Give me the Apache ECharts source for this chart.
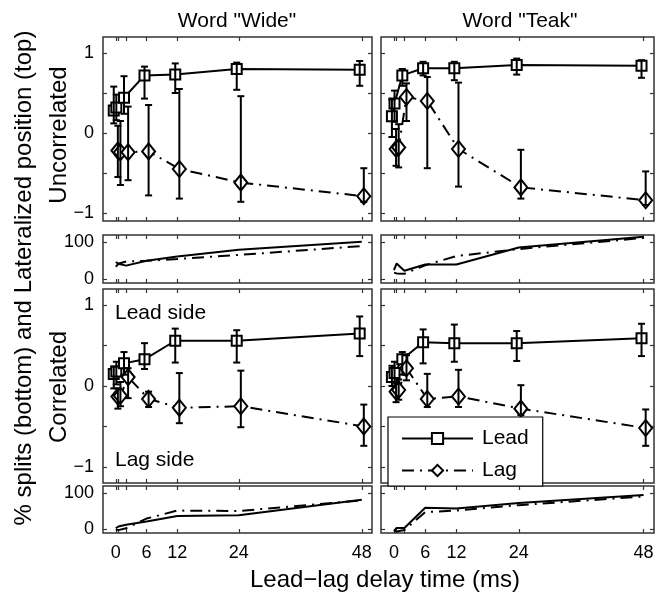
<!DOCTYPE html>
<html>
<head>
<meta charset="utf-8">
<script src="https://cdn.jsdelivr.net/npm/echarts@6/dist/echarts.min.js"></script>
<style>html,body{margin:0;padding:0;background:#fff}#chart{width:656px;height:597px}</style>
</head>
<body>
<div id="chart"></div>
<script>
// lead-lag delays (ms) and tick positions
var delays = [0, 0.5, 2, 6, 12, 24, 48]
var delayLabels = [0, 6, 12, 24, 48]
var posTicks = [-1, -0.5, 0, 0.5, 1]
var posLabels = [-1, 0, 1]
var splitTicks = [0, 100]

// lateralized position, uncorrelated, word "Wide"
var uncWideLead = [0.28, 0.32, 0.44, 0.72, 0.73, 0.80, 0.79]
var uncWideLeadLo = [0.12, 0.16, 0.24, 0.43, 0.50, 0.54, 0.59]
var uncWideLeadHi = [0.58, 0.48, 0.71, 0.83, 0.87, 0.88, 0.90]
var uncWideLag = [-0.22, -0.24, -0.24, -0.23, -0.45, -0.62, -0.79]
var uncWideLagLo = [-0.55, -0.65, -0.59, -0.78, -0.82, -0.86, -0.86]
var uncWideLagHi = [0.09, 0.15, 0.33, 0.35, 0.55, 0.46, -0.44]
// uncorrelated, word "Teak"
var uncTeakLead = [0.21, 0.37, 0.72, 0.81, 0.81, 0.85, 0.84]
var uncTeakLeadLo = [-0.05, 0.14, 0.59, 0.72, 0.66, 0.73, 0.69]
var uncTeakLeadHi = [0.42, 0.53, 0.80, 0.89, 0.89, 0.93, 0.91]
var uncTeakLag = [-0.20, -0.18, 0.45, 0.40, -0.20, -0.68, -0.84]
var uncTeakLagLo = [-0.41, -0.43, 0.15, -0.44, -0.67, -0.82, -0.90]
var uncTeakLagHi = [0.05, 0.11, 0.62, 0.70, 0.63, -0.21, -0.48]
// correlated, word "Wide"
var corWideLead = [0.15, 0.18, 0.28, 0.33, 0.56, 0.56, 0.65]
var corWideLeadLo = [-0.03, 0.02, 0.14, 0.21, 0.29, 0.29, 0.37]
var corWideLeadHi = [0.24, 0.30, 0.42, 0.53, 0.71, 0.69, 0.86]
var corWideLag = [-0.13, -0.12, 0.11, -0.16, -0.27, -0.25, -0.50]
var corWideLagLo = [-0.28, -0.25, -0.15, -0.26, -0.46, -0.51, -0.74]
var corWideLagHi = [-0.03, 0.05, 0.22, -0.07, 0.16, 0.19, -0.23]
// correlated, word "Teak"
var corTeakLead = [0.11, 0.16, 0.33, 0.54, 0.53, 0.53, 0.59]
var corTeakLeadLo = [0.00, 0.03, 0.14, 0.28, 0.30, 0.31, 0.37]
var corTeakLeadHi = [0.25, 0.30, 0.42, 0.70, 0.76, 0.68, 0.77]
var corTeakLag = [-0.07, -0.05, 0.22, -0.16, -0.13, -0.28, -0.52]
var corTeakLagLo = [-0.20, -0.17, 0.07, -0.26, -0.26, -0.36, -0.74]
var corTeakLagHi = [0.05, 0.08, 0.38, 0.15, 0.20, 0.01, -0.29]

// % splits
var splitUncWideLead = [47, 42, 37, 50, 62, 80, 102]
var splitUncWideLag = [34, 42, 48, 50, 55, 66, 90]
var splitUncTeakLead = [25, 43, 23, 40, 40, 86, 115]
var splitUncTeakLag = [18, 16, 15, 38, 63, 82, 112]
var splitCorWideLead = [3, 8, 13, 22, 37, 39, 82]
var splitCorWideLag = [0, -2, 3, 30, 52, 51, 80]
var splitCorTeakLead = [-5, 4, 4, 60, 58, 73, 95]
var splitCorTeakLag = [-4, -6, -2, 48, 52, 67, 91]

var FONT = '"Liberation Sans", Arial, sans-serif'
var dashDot = [12, 6, 2, 6]

var cols = [{left: 103, width: 269}, {left: 381, width: 273}]
var rows = [
    {top: 37, height: 184, min: -1.1, max: 1.2, big: true},
    {top: 235, height: 48, min: -10, max: 120, big: false},
    {top: 289, height: 194, min: -1.2, max: 1.2, big: true},
    {top: 486, height: 47, min: -10, max: 120, big: false}
]

// ticks follow the label positions; labels that should not show are blanked
function tickLabels(ticks, shown, visible) {
    return {
        show: true, customValues: ticks,
        fontSize: 18, fontFamily: FONT, color: '#000',
        formatter: function (v) {
            if (!visible || shown.indexOf(v) < 0) return ''
            return String(v).replace('-', '\u2212')
        }
    }
}

var grids = [], xAxes = [], yAxes = []
rows.forEach(function (r, ri) {
    cols.forEach(function (c, ci) {
        var g = grids.length
        grids.push({
            left: c.left, width: c.width, top: r.top, height: r.height,
            outerBoundsMode: 'none', containLabel: false,
            show: true, borderColor: '#333', borderWidth: 1.5, backgroundColor: '#fff'
        })
        var last = ri === rows.length - 1
        ;['bottom', 'top'].forEach(function (pos) {
            var lab = tickLabels(delays, delayLabels, last && pos === 'bottom')
            lab.margin = 11
            xAxes.push({
                type: 'value', gridIndex: g, position: pos, min: -2.5, max: 50,
                axisLine: {show: false, onZero: false},
                axisTick: {inside: true, length: 4, customValues: delays, lineStyle: {color: '#333', width: 1.2}},
                axisLabel: lab,
                splitLine: {show: false}
            })
        })
        ;['left', 'right'].forEach(function (pos) {
            var ticks = r.big ? posTicks : splitTicks
            var lab = tickLabels(ticks, r.big ? posLabels : splitTicks, pos === 'left' && ci === 0)
            lab.margin = 9
            yAxes.push({
                type: 'value', gridIndex: g, position: pos, min: r.min, max: r.max,
                axisLine: {show: false, onZero: false},
                axisTick: {inside: true, length: 4, customValues: ticks, lineStyle: {color: '#333', width: 1.2}},
                axisLabel: lab,
                splitLine: {show: false}
            })
        })
    })
})

function errRender(params, api) {
    var x = api.value(0)
    var top = api.coord([x, api.value(2)])
    var bot = api.coord([x, api.value(1)])
    var cap = 3.5
    var st = {stroke: '#000', lineWidth: 2}
    return {type: 'group', children: [
        {type: 'line', shape: {x1: top[0], y1: top[1], x2: bot[0], y2: bot[1]}, style: st},
        {type: 'line', shape: {x1: top[0] - cap, y1: top[1], x2: top[0] + cap, y2: top[1]}, style: st},
        {type: 'line', shape: {x1: bot[0] - cap, y1: bot[1], x2: bot[0] + cap, y2: bot[1]}, style: st}
    ]}
}

function pts(vals, off) {
    return delays.map(function (d, k) { return [d + off, vals[k]] })
}
function errPts(lo, hi, off) {
    return delays.map(function (d, k) { return [d + off, lo[k], hi[k]] })
}

var series = []
function bigPanel(g, lead, leadLo, leadHi, lag, lagLo, lagHi) {
    series.push({
        name: 'Lead', type: 'line', xAxisIndex: 2 * g, yAxisIndex: 2 * g, z: 2,
        data: pts(lead, -0.4), symbol: 'emptyRect', symbolSize: 10,
        lineStyle: {color: '#000', width: 2},
        itemStyle: {color: '#000', borderWidth: 1.8}
    })
    series.push({
        name: 'Lag', type: 'line', xAxisIndex: 2 * g, yAxisIndex: 2 * g, z: 2,
        data: pts(lag, 0.4), symbol: 'emptyDiamond', symbolSize: [13, 16],
        lineStyle: {color: '#000', width: 2, type: dashDot},
        itemStyle: {color: '#000', borderWidth: 1.8}
    })
    series.push({
        type: 'custom', xAxisIndex: 2 * g, yAxisIndex: 2 * g, z: 3,
        renderItem: errRender, data: errPts(leadLo, leadHi, -0.4), encode: {x: 0, y: [1, 2]}
    })
    series.push({
        type: 'custom', xAxisIndex: 2 * g, yAxisIndex: 2 * g, z: 3,
        renderItem: errRender, data: errPts(lagLo, lagHi, 0.4), encode: {x: 0, y: [1, 2]}
    })
}
function splitPanel(g, lead, lag) {
    series.push({
        type: 'line', xAxisIndex: 2 * g, yAxisIndex: 2 * g, data: pts(lead, 0),
        symbol: 'none', lineStyle: {color: '#000', width: 2}
    })
    series.push({
        type: 'line', xAxisIndex: 2 * g, yAxisIndex: 2 * g, data: pts(lag, 0),
        symbol: 'none', lineStyle: {color: '#000', width: 2, type: dashDot}
    })
}

bigPanel(0, uncWideLead, uncWideLeadLo, uncWideLeadHi, uncWideLag, uncWideLagLo, uncWideLagHi)
bigPanel(1, uncTeakLead, uncTeakLeadLo, uncTeakLeadHi, uncTeakLag, uncTeakLagLo, uncTeakLagHi)
splitPanel(2, splitUncWideLead, splitUncWideLag)
splitPanel(3, splitUncTeakLead, splitUncTeakLag)
bigPanel(4, corWideLead, corWideLeadLo, corWideLeadHi, corWideLag, corWideLagLo, corWideLagHi)
bigPanel(5, corTeakLead, corTeakLeadLo, corTeakLeadHi, corTeakLag, corTeakLagLo, corTeakLagHi)
splitPanel(6, splitCorWideLead, splitCorWideLag)
splitPanel(7, splitCorTeakLead, splitCorTeakLag)

function label(text, x, y, size, rot, align) {
    return {
        type: 'text', x: x, y: y, rotation: rot || 0, z: 10,
        style: {
            text: text, font: size + 'px ' + FONT, fill: '#000',
            textAlign: align || 'center', textVerticalAlign: 'middle',
            align: align || 'center', verticalAlign: 'middle'
        }
    }
}

var myChart = echarts.init(document.getElementById('chart'))
var option = {
    animation: false,
    backgroundColor: '#fff',
    grid: grids,
    xAxis: xAxes,
    yAxis: yAxes,
    series: series,
    legend: {
        data: ['Lead', 'Lag'],
        orient: 'vertical', left: 388, top: 417,
        itemWidth: 71, itemHeight: 14, itemGap: 11,
        padding: [11, 14, 5, 13],
        backgroundColor: '#fff', borderColor: '#000', borderWidth: 1.2,
        textStyle: {fontSize: 21, fontFamily: FONT, color: '#000', padding: [0, 0, 0, 4]},
        selectedMode: false
    },
    graphic: [
        label('Word "Wide"', 237, 21, 21),
        label('Word "Teak"', 520, 21, 21),
        label('Uncorrelated', 59, 135, 24, Math.PI / 2),
        label('Correlated', 59, 387, 24, Math.PI / 2),
        label('% splits (bottom) and Lateralized position (top)', 24, 278, 24, Math.PI / 2),
        label('Lead\u2212lag delay time (ms)', 385, 580, 24),
        label('Lead side', 115, 313, 21, 0, 'left'),
        label('Lag side', 115, 460, 21, 0, 'left')
    ]
}
myChart.setOption(option)
</script>
</body>
</html>
